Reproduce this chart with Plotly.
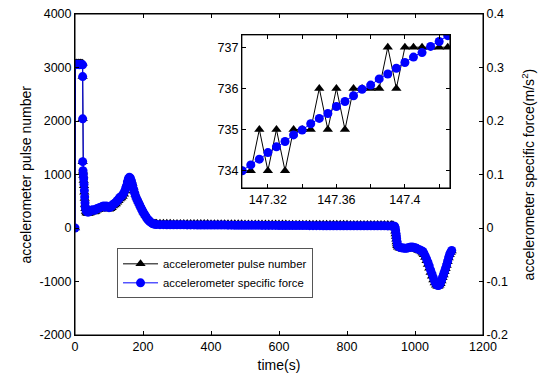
import plotly.graph_objects as go

# ---------------- main series (time in s) ----------------
TIME = [0, 1.5, 4, 7, 10, 13, 16, 19, 22.5, 22.55, 22.6, 22.65,
        23.5, 24.5, 25.5, 26.5, 27.5, 28.5, 29.5, 30.5, 32, 34, 37, 40, 44, 48, 52, 56,
        60, 64, 68, 72, 76, 80, 84, 88, 92, 96, 100, 104, 108, 112, 116, 120, 124,
        128, 132, 136, 140, 144, 148, 151, 154, 157, 160, 163, 166, 169, 172, 175,
        178, 181, 184, 187, 190, 193, 196, 199, 202, 205, 208, 211, 214, 217, 220,
        224, 228, 232, 236, 240,
        250, 260, 270, 280, 290, 300, 310, 320, 330, 340, 350, 360, 370, 380, 390,
        400, 410, 420, 430, 440, 450, 460, 470, 480, 490, 500, 510, 520, 530, 540,
        550, 560, 570, 580, 590, 600, 610, 620, 630, 640, 650, 660, 670, 680, 690,
        700, 710, 720, 730, 740, 750, 760, 770, 780, 790, 800, 810, 820, 830, 840,
        850, 860, 870, 880, 890, 900, 910, 920, 930,
        935, 940, 942, 943, 944, 945, 946, 947, 948, 950,
        955, 960, 965, 970, 975, 980, 985, 990, 995, 1000, 1005, 1010, 1015, 1020,
        1023, 1026, 1030, 1034, 1038, 1042, 1046, 1050, 1054, 1058, 1062, 1066, 1069,
        1072, 1075, 1078, 1081, 1084, 1087, 1090, 1093, 1096, 1099, 1102, 1105, 1108]

SPECIFIC_FORCE = [0.0, 0.305, 0.306, 0.3055, 0.306, 0.305, 0.3055, 0.306, 0.305, 0.283, 0.204, 0.124,
                  0.107, 0.100, 0.092, 0.082, 0.070, 0.058, 0.047, 0.039, 0.034, 0.031, 0.030, 0.030,
                  0.031, 0.033, 0.034, 0.033,
                  0.034, 0.036, 0.037, 0.038, 0.039, 0.040, 0.041, 0.039, 0.041, 0.040, 0.038, 0.039,
                  0.041, 0.044, 0.046, 0.048, 0.051,
                  0.054, 0.057, 0.059, 0.062, 0.066, 0.072, 0.078, 0.086, 0.092, 0.095, 0.093, 0.088,
                  0.081, 0.073, 0.066,
                  0.060, 0.055, 0.051, 0.047, 0.043, 0.039, 0.035, 0.031, 0.028, 0.025, 0.022, 0.019,
                  0.016, 0.014, 0.012,
                  0.010, 0.0085, 0.0075, 0.0068, 0.0065,
                  0.0062, 0.0062, 0.0061, 0.0061, 0.0060, 0.0060, 0.0059, 0.0059, 0.0058, 0.0058,
                  0.0058, 0.0057, 0.0057, 0.0056, 0.0056,
                  0.0055, 0.0055, 0.0055, 0.0054, 0.0054, 0.0053, 0.0053, 0.0052, 0.0052, 0.0052,
                  0.0051, 0.0051, 0.0050, 0.0050, 0.0050,
                  0.0049, 0.0049, 0.0048, 0.0048, 0.0048, 0.0047, 0.0047, 0.0047, 0.0046, 0.0046,
                  0.0046, 0.0045, 0.0045, 0.0045, 0.0044,
                  0.0044, 0.0044, 0.0044, 0.0043, 0.0043, 0.0043, 0.0043, 0.0042, 0.0042, 0.0042,
                  0.0042, 0.0041, 0.0041, 0.0041, 0.0041,
                  0.0041, 0.0040, 0.0040, 0.0040, 0.0040, 0.0040, 0.0040, 0.0039, 0.0039,
                  0.0039, 0.0035, 0.0000, -0.0050, -0.0100, -0.0150, -0.0200, -0.0250, -0.0300, -0.0340,
                  -0.0360, -0.0370, -0.0375, -0.0380, -0.0380, -0.0370, -0.0360, -0.0355, -0.0360,
                  -0.0370, -0.0380, -0.0400, -0.0410, -0.0430,
                  -0.044, -0.047, -0.052, -0.058, -0.064, -0.071, -0.079, -0.086, -0.093, -0.100,
                  -0.105, -0.107, -0.1075,
                  -0.106, -0.103, -0.098, -0.092, -0.087, -0.081, -0.075, -0.069, -0.062, -0.055,
                  -0.049, -0.045, -0.042]

PULSE_NUMBER = [0, 3080, 3085, 3080, 3085, 3080, 3085, 3080, 3080, 2830, 2040, 1240,
                1060, 980, 890, 790, 670, 550, 440, 360, 310, 280, 270, 270,
                280, 300, 310, 300,
                310, 330, 340, 350, 360, 370, 380, 360, 380, 370, 350, 360,
                380, 410, 430, 450, 480,
                510, 540, 560, 590, 630, 690, 750, 830, 900, 940, 930, 890,
                830, 760, 690,
                630, 580, 540, 500, 460, 420, 380, 340, 300, 270, 240, 210,
                180, 160, 140,
                120, 100, 95, 90, 90,
                88, 88, 87, 87, 86, 86, 85, 85, 84, 84,
                84, 83, 83, 82, 82,
                81, 81, 81, 80, 80, 79, 79, 78, 78, 78,
                77, 77, 76, 76, 76,
                75, 75, 74, 74, 74, 73, 73, 73, 72, 72,
                72, 71, 71, 71, 70,
                70, 70, 70, 69, 69, 69, 69, 68, 68, 68,
                68, 67, 67, 67, 67,
                67, 66, 66, 66, 66, 66, 66, 65, 65,
                60, 0, -60, -110, -160, -210, -260, -300, -330, -360,
                -380, -390, -395, -400, -400, -390, -380, -375, -380,
                -390, -400, -420, -430, -450,
                -470, -500, -550, -610, -680, -750, -830, -900, -970, -1030,
                -1070, -1090, -1090,
                -1070, -1040, -990, -930, -880, -820, -760, -700, -630, -560,
                -500, -460, -430]

# ---------------- inset (zoom around t = 147.3 s) ----------------
INSET_TIME = [147.305, 147.310, 147.315, 147.320, 147.325, 147.330, 147.335, 147.340,
              147.345, 147.350, 147.355, 147.360, 147.365, 147.370, 147.375, 147.380,
              147.385, 147.390, 147.395, 147.400, 147.405, 147.410, 147.415, 147.420, 147.425]
INSET_PULSE = [734, 734, 735, 734, 735, 734, 735, 735, 735, 736, 735, 736, 735,
               736, 736, 736, 736, 737, 736, 737, 737, 737, 737, 737, 737]
INSET_FORCE = [734.00, 734.14, 734.28, 734.44, 734.58, 734.71, 734.87, 734.99, 735.14,
               735.27, 735.39, 735.56, 735.68, 735.82, 735.98, 736.08, 736.23, 736.35,
               736.49, 736.63, 736.76, 736.87, 737.02, 737.14, 737.28]

X_TICKS = [0, 200, 400, 600, 800, 1000, 1200]
Y_TICKS = [-2000, -1000, 0, 1000, 2000, 3000, 4000]
Y_TICK_TEXT = ["-2000", "-1000", "0", "1000", "2000", "3000", "4000"]
Y2_TICKS = [-0.2, -0.1, 0, 0.1, 0.2, 0.3, 0.4]
Y2_TICK_TEXT = ["-0.2", "-0.1", "0", "0.1", "0.2", "0.3", "0.4"]
INSET_X_TICKS = [147.32, 147.36, 147.40]
INSET_X_TEXT = ["147.32", "147.36", "147.4"]
INSET_X_MINOR = [147.34, 147.38, 147.42]
INSET_Y_TICKS = [734, 735, 736, 737]

X_RANGE = [0, 1200]
Y_RANGE = [-2000, 4000]
Y2_RANGE = [-0.2, 0.4]
INSET_X_RANGE = [147.3048, 147.4263]
INSET_Y_RANGE = [733.58, 737.3]

BLUE = "#0000ff"
FONT = "Liberation Sans, Arial, sans-serif"
TITLE_SIZE = 14

fig = go.Figure()

fig.add_trace(go.Scatter(
    x=TIME, y=PULSE_NUMBER, name="accelerometer pulse number",
    mode="lines+markers", line=dict(color="black", width=1),
    marker=dict(symbol="triangle-up", size=9, color="black"),
    xaxis="x", yaxis="y"))
fig.add_trace(go.Scatter(
    x=TIME, y=SPECIFIC_FORCE, name="accelerometer specific force",
    mode="lines+markers", line=dict(color=BLUE, width=1),
    marker=dict(symbol="circle", size=9, color=BLUE),
    xaxis="x", yaxis="y2"))

fig.add_trace(go.Scatter(
    x=INSET_TIME, y=INSET_PULSE, mode="lines+markers", showlegend=False,
    line=dict(color="black", width=1),
    marker=dict(symbol="triangle-up", size=9, color="black"),
    xaxis="x3", yaxis="y3"))
fig.add_trace(go.Scatter(
    x=INSET_TIME, y=INSET_FORCE, mode="lines+markers", showlegend=False,
    line=dict(color=BLUE, width=1),
    marker=dict(symbol="circle", size=9, color=BLUE),
    xaxis="x3", yaxis="y3"))

# empty helper traces so the frame axes (top / right ticks) get drawn
for xa, ya in [("x2", "y"), ("x4", "y3"), ("x3", "y4")]:
    fig.add_trace(go.Scatter(x=[], y=[], xaxis=xa, yaxis=ya, showlegend=False,
                             hoverinfo="skip"))

axis_common = dict(showgrid=False, zeroline=False, showline=True, linecolor="black",
                   linewidth=1, ticks="inside", ticklen=4, tickcolor="black",
                   automargin=False, tickfont=dict(size=12.5, color="black"))
frame_common = dict(axis_common, showticklabels=False)
minor_ticks = dict(tickvals=INSET_X_MINOR, ticks="inside", ticklen=4, tickcolor="black",
                   showgrid=False)

fig.update_layout(
    width=550, height=385,
    margin=dict(l=75, r=67, t=14, b=50, autoexpand=False),
    paper_bgcolor="white", plot_bgcolor="white",
    font=dict(family=FONT, size=12.5, color="black"),
    xaxis=dict(range=X_RANGE, tickvals=X_TICKS,
               title=dict(text="time(s)", standoff=7, font=dict(size=TITLE_SIZE)),
               **axis_common),
    xaxis2=dict(range=X_RANGE, tickvals=X_TICKS, overlaying="x", side="top",
                anchor="y", **frame_common),
    yaxis=dict(range=Y_RANGE, tickvals=Y_TICKS, ticktext=Y_TICK_TEXT, **axis_common),
    yaxis2=dict(range=Y2_RANGE, tickvals=Y2_TICKS, ticktext=Y2_TICK_TEXT,
                overlaying="y", side="right", anchor="x", **axis_common),
    xaxis3=dict(domain=[0.409, 0.919], anchor="y3", range=INSET_X_RANGE,
                tickvals=INSET_X_TICKS, ticktext=INSET_X_TEXT, minor=minor_ticks,
                **axis_common),
    yaxis3=dict(domain=[0.458, 0.935], anchor="x3", range=INSET_Y_RANGE,
                tickvals=INSET_Y_TICKS, **axis_common),
    xaxis4=dict(range=INSET_X_RANGE, tickvals=INSET_X_TICKS, overlaying="x3",
                side="top", anchor="y3", minor=minor_ticks, **frame_common),
    yaxis4=dict(range=INSET_Y_RANGE, tickvals=INSET_Y_TICKS, overlaying="y3",
                side="right", anchor="x3", **frame_common),
    legend=dict(x=0.103, y=0.27, xanchor="left", yanchor="top",
                bgcolor="white", bordercolor="#555555", borderwidth=1,
                font=dict(size=11.3, color="black"), itemwidth=35,
                tracegroupgap=0),
    showlegend=True,
    annotations=[
        dict(text="accelerometer pulse number", xref="paper", yref="paper",
             x=-0.1225, y=0.5, xanchor="center", yanchor="middle", textangle=-90,
             showarrow=False, font=dict(size=TITLE_SIZE)),
        dict(text="accelerometer specific force(m/s<sup>2</sup>)", xref="paper", yref="paper",
             x=1.110, y=0.5, xanchor="center", yanchor="middle", textangle=-90,
             showarrow=False, font=dict(size=TITLE_SIZE)),
    ],
    shapes=[
        dict(type="rect", xref="x domain", yref="y domain", x0=0, x1=1, y0=0, y1=1,
             line=dict(color="black", width=1), fillcolor="rgba(0,0,0,0)", layer="above"),
        dict(type="rect", xref="x3 domain", yref="y3 domain", x0=0, x1=1, y0=0, y1=1,
             line=dict(color="black", width=1), fillcolor="rgba(0,0,0,0)", layer="above"),
    ],
)

fig.write_html("out.html", config={"displayModeBar": False},
               post_script="document.body.style.margin='0px';")
